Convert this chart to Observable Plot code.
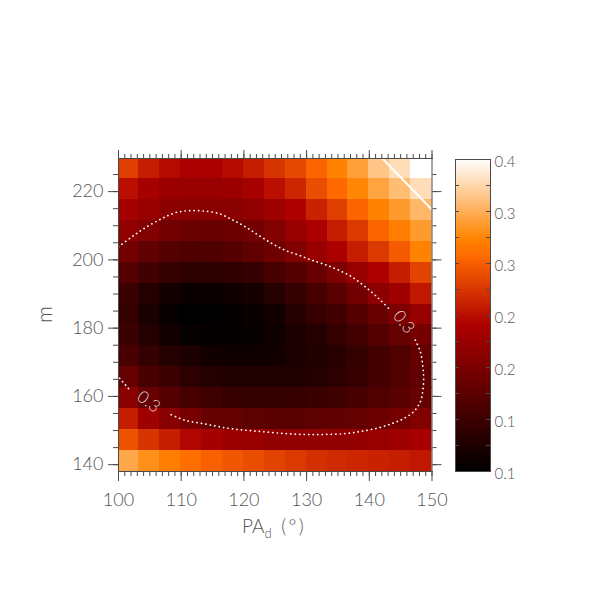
<!DOCTYPE html>
<html>
<head>
<meta charset="utf-8">
<script src="https://cdn.jsdelivr.net/npm/d3@7"></script>
<script src="https://cdn.jsdelivr.net/npm/@observablehq/plot@0.6"></script>
<style>
  html, body { margin: 0; padding: 0; background: #fff; }
  #wrap { position: relative; width: 591px; height: 591px; }
  #wrap svg { position: absolute; left: 0; top: 0; }
  svg text { font-weight: 300; }
</style>
</head>
<body>
<div id="wrap"></div>
<script>
// ---------------- data ----------------
// cell centres (PA_d in degrees, m), rows listed top (high m) to bottom
const paCenters = [101.67, 105.00, 108.33, 111.67, 115.00, 118.33, 121.67, 125.00, 128.33, 131.67, 135.00, 138.33, 141.67, 145.00, 148.33];
const mCenters  = [226.64, 220.52, 214.41, 208.30, 202.18, 196.07, 189.96, 183.85, 177.73, 171.62, 165.51, 159.40, 153.28, 147.17, 141.06];
const paStep = 10 / 3;
const mStep = 6.113;

const values = [
  [0.280,0.259,0.247,0.238,0.238,0.247,0.259,0.274,0.286,0.304,0.322,0.340,0.364,0.379,0.400],
  [0.250,0.235,0.226,0.223,0.223,0.226,0.235,0.250,0.265,0.289,0.307,0.325,0.343,0.358,0.379],
  [0.235,0.223,0.214,0.211,0.211,0.211,0.217,0.229,0.241,0.262,0.280,0.304,0.322,0.337,0.355],
  [0.217,0.205,0.193,0.187,0.184,0.187,0.193,0.205,0.223,0.238,0.259,0.277,0.304,0.319,0.337],
  [0.193,0.178,0.169,0.163,0.163,0.169,0.178,0.190,0.205,0.223,0.238,0.259,0.277,0.298,0.322],
  [0.169,0.154,0.142,0.136,0.136,0.139,0.145,0.157,0.169,0.184,0.202,0.223,0.241,0.259,0.283],
  [0.148,0.130,0.115,0.109,0.109,0.112,0.118,0.130,0.142,0.157,0.172,0.193,0.214,0.229,0.256],
  [0.142,0.121,0.106,0.100,0.100,0.103,0.109,0.115,0.130,0.142,0.154,0.169,0.184,0.202,0.223],
  [0.148,0.130,0.115,0.106,0.103,0.103,0.106,0.112,0.121,0.130,0.142,0.154,0.169,0.181,0.196],
  [0.160,0.142,0.130,0.121,0.115,0.112,0.112,0.115,0.121,0.127,0.133,0.142,0.154,0.166,0.181],
  [0.181,0.160,0.148,0.136,0.130,0.127,0.124,0.124,0.127,0.130,0.136,0.145,0.154,0.166,0.178],
  [0.211,0.184,0.169,0.157,0.151,0.145,0.142,0.142,0.145,0.148,0.151,0.157,0.166,0.172,0.184],
  [0.259,0.229,0.211,0.196,0.184,0.181,0.175,0.172,0.172,0.175,0.178,0.181,0.187,0.196,0.205],
  [0.292,0.274,0.259,0.244,0.235,0.226,0.223,0.217,0.217,0.217,0.217,0.220,0.223,0.229,0.235],
  [0.346,0.331,0.319,0.310,0.301,0.295,0.289,0.283,0.277,0.271,0.268,0.265,0.262,0.259,0.256]
];

// dotted 0.3 contour (gaps where the labels sit)
const contourPA = [100.00,102.13,104.26,106.91,109.04,111.17,113.56,115.96,118.09,120.21,122.34,124.47,126.60,128.72,130.85,132.98,135.11,137.23,139.36,141.49,143.09,null,
                   147.34,148.14,148.51,148.67,148.51,148.14,147.07,145.48,143.62,141.49,138.83,136.17,132.98,129.79,126.60,123.40,120.21,117.02,113.83,110.64,107.98,null,
                   101.60,100.00];
const contourM  = [203.8,206.75,209.4,212.1,213.8,214.4,214.3,213.6,211.8,209.7,207.2,204.8,202.8,201.4,199.9,198.6,197.0,195.0,192.1,188.7,185.75,null,
                   176.5,173.1,169.15,165.25,161.34,158.4,155.5,153.5,152.06,150.8,149.8,149.1,148.84,148.84,149.1,149.6,150.1,150.8,151.9,153.0,155.0,null,
                   162.3,165.7];
const contourLabelText = "0.3";
const labelLowPA = 104.8, labelLowM = 158.4;
const labelHighPA = 145.5, labelHighM = 181.8;

// solid white line, top right
const linePA = [142.1, 150.0];
const lineM  = [229.7, 214.7];

// axes
const xMajor = [100, 110, 120, 130, 140, 150];
const yMajor = [140, 160, 180, 200, 220];
const cbTicks  = [0.10, 0.15, 0.20, 0.25, 0.30, 0.35, 0.40];
const cbLabels = ["0.1", "0.1", "0.2", "0.2", "0.3", "0.3", "0.4"];

// ---------------- colour map (red temperature) ----------------
function ct3(t) {
  t = Math.max(0, Math.min(1, t));
  const c = v => Math.round(255 * Math.max(0, Math.min(1, v)));
  return `rgb(${c(t / 0.69)},${c((t - 0.47) / 0.53)},${c((t - 0.745) / 0.255)})`;
}
const colorScale = {type: "linear", domain: [0.1, 0.4], interpolate: ct3, clamp: true};

// ---------------- build ----------------
const cells = [];
mCenters.forEach((m, i) => paCenters.forEach((pa, j) => cells.push({pa, m, v: values[i][j]})));
const contour = contourPA.map((pa, i) => ({pa, m: contourM[i]}));
const whiteLine = linePA.map((pa, i) => ({pa, m: lineM[i]}));
const xMinor = d3.range(100, 151, 1);
const yMinor = d3.range(140, 230, 5);
const axisColor = "#4a4a4a";
const FONT = "Lato, 'Open Sans', sans-serif";

const main = Plot.plot({
  width: 591, height: 591,
  marginLeft: 118, marginRight: 159.5, marginTop: 158, marginBottom: 120,
  x: {domain: [100, 150]},
  y: {domain: [138.0, 229.7]},
  color: colorScale,
  style: {background: "transparent", fontFamily: FONT, color: "#555", overflow: "visible"},
  marks: [
    Plot.rect(cells, {
      x1: d => d.pa - paStep / 2, x2: d => d.pa + paStep / 2,
      y1: d => d.m - mStep / 2, y2: d => d.m + mStep / 2,
      fill: "v", inset: -0.5, clip: true, shapeRendering: "crispEdges"
    }),
    Plot.line(contour, {x: "pa", y: "m", stroke: "white", strokeWidth: 1.7,
      strokeDasharray: "0.2 4.3", strokeLinecap: "round", curve: "catmull-rom", clip: true}),
    Plot.line(whiteLine, {x: "pa", y: "m", stroke: "white", strokeWidth: 2, clip: true}),
    Plot.text([{pa: labelLowPA, m: labelLowM}], {x: "pa", y: "m", text: () => contourLabelText,
      rotate: 37, fill: "#d8d0d0", fontSize: 17, fontWeight: 300}),
    Plot.text([{pa: labelHighPA, m: labelHighM}], {x: "pa", y: "m", text: () => contourLabelText,
      rotate: 52, fill: "#d8d0d0", fontSize: 17, fontWeight: 300}),
    Plot.frame({stroke: axisColor}),
    Plot.axisX({anchor: "bottom", ticks: xMajor, tickSize: 10, tickPadding: 12, fontSize: 18, label: null, color: "#555", stroke: axisColor}),
    Plot.axisX({anchor: "bottom", ticks: xMinor, tickSize: 5, tickFormat: () => "", label: null, stroke: axisColor}),
    Plot.axisX({anchor: "top", ticks: xMajor, tickSize: 9, tickFormat: () => "", label: null, stroke: axisColor}),
    Plot.axisX({anchor: "top", ticks: xMinor, tickSize: 5, tickFormat: () => "", label: null, stroke: axisColor}),
    Plot.axisY({anchor: "left", ticks: yMajor, tickSize: 10, tickPadding: 5, fontSize: 18, label: null, color: "#555", stroke: axisColor}),
    Plot.axisY({anchor: "left", ticks: yMinor, tickSize: 5, tickFormat: () => "", label: null, stroke: axisColor}),
    Plot.axisY({anchor: "right", ticks: yMajor, tickSize: 9, tickFormat: () => "", label: null, stroke: axisColor}),
    Plot.axisY({anchor: "right", ticks: yMinor, tickSize: 4, tickFormat: () => "", label: null, stroke: axisColor})
  ]
});

// axis titles
const svg = d3.select(main);
const xs = main.scale("x"), ys = main.scale("y");
const xMid = (xs.apply(100) + xs.apply(150)) / 2;
const yMid = (ys.apply(138.0) + ys.apply(229.7)) / 2;
const xt = svg.append("text")
  .attr("x", xMid - 2).attr("y", 533)
  .attr("text-anchor", "middle")
  .attr("fill", "#555").attr("font-size", 19).attr("font-family", FONT);
xt.append("tspan").text("PA");
xt.append("tspan").attr("dy", 5).attr("font-size", 13).attr("fill", "#555").text("d");
xt.append("tspan").attr("dy", -5).text("\u2002(\u2009\u00b0\u2009)");
svg.append("text")
  .attr("transform", `translate(52,${yMid}) rotate(-90)`)
  .attr("text-anchor", "middle")
  .attr("fill", "#555").attr("font-size", 21).attr("font-family", FONT)
  .text("m");

// colour bar
const cbLabelOf = new Map(cbTicks.map((t, i) => [t, cbLabels[i]]));
const cbMinor = d3.range(0, 13).map(k => 0.1 + k * 0.025);
const cb = Plot.plot({
  width: 591, height: 591,
  marginLeft: 455, marginRight: 101, marginTop: 159, marginBottom: 120,
  x: {domain: [0, 1], axis: null},
  y: {domain: [0.1, 0.4]},
  color: colorScale,
  style: {background: "transparent", fontFamily: FONT, color: "#555", overflow: "visible"},
  marks: [
    Plot.raster({x1: 0, x2: 1, y1: 0.1, y2: 0.4, width: 1, height: 300, fill: (x, y) => y}),
    Plot.ruleY(cbMinor, {y: d => d, x1: 0, x2: 0.115, stroke: axisColor}),
    Plot.ruleY(cbMinor, {y: d => d, x1: 0.885, x2: 1, stroke: axisColor}),
    Plot.frame({stroke: axisColor}),
    Plot.axisY({anchor: "right", ticks: cbTicks, tickSize: 0, tickPadding: 4, dy: 3,
      tickFormat: d => cbLabelOf.get(d), fontSize: 15, label: null, color: "#555"})
  ]
});

const wrap = document.getElementById("wrap");
wrap.appendChild(main);
wrap.appendChild(cb);
</script>
</body>
</html>
